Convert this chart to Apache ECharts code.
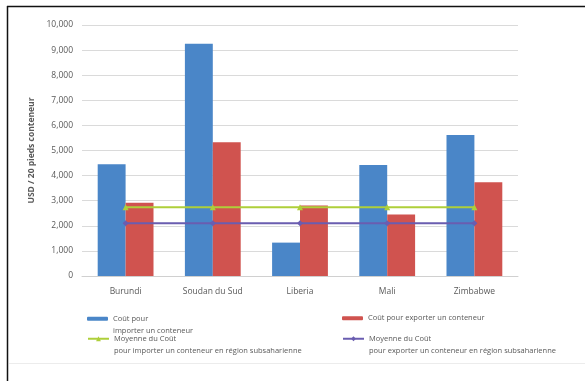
<!DOCTYPE html>
<html>
<head>
<meta charset="utf-8">
<script src="https://cdn.jsdelivr.net/npm/echarts@6/dist/echarts.min.js"></script>
<style>
  html, body { margin: 0; padding: 0; background: #fff; }
  #chart { width: 585px; height: 381px; }
</style>
</head>
<body>
<div id="chart"></div>
<script>
// Pays comparés
const categories = ['Burundi', 'Soudan du Sud', 'Liberia', 'Mali', 'Zimbabwe'];
// Coût (USD par conteneur de 20 pieds)
const importCost = [4450, 9250, 1330, 4420, 5620];
const exportCost = [2920, 5330, 2810, 2450, 3740];
// Moyennes régionales (Afrique subsaharienne)
const avgImport = [2740, 2740, 2740, 2740, 2740];
const avgExport = [2100, 2100, 2100, 2100, 2100];
// Graduations de l'axe des valeurs
const yTicks = [0, 1000, 2000, 3000, 4000, 5000, 6000, 7000, 8000, 9000, 10000];

const names = [
  'Coût pour\nimporter un conteneur',
  'Coût pour exporter un conteneur',
  'Moyenne du Coût\npour importer un conteneur en région subsaharienne',
  'Moyenne du Coût\npour exporter un conteneur en région subsaharienne'
];

const grey = '#595959';
const font = '"Open Sans", "Liberation Sans", sans-serif';

// Two-line entries get a blank leading line so the symbol sits beside the first line
function legendAt(name, left, top, isLine) {
  const twoLines = name.indexOf('\n') >= 0;
  return {
    data: [name],
    left: left, top: top,
    padding: 0,
    orient: 'horizontal',
    itemWidth: 21,
    itemHeight: isLine ? 6 : 4,
    itemGap: 0,
    selectedMode: false,
    formatter: n => (twoLines ? ' \n' + n : n),
    textStyle: { fontSize: 7.5, color: grey, fontFamily: font, lineHeight: 12.5 }
  };
}

const chart = echarts.init(document.getElementById('chart'));
chart.setOption({
  animation: false,
  backgroundColor: '#fff',
  grid: { left: 82, right: 67, top: 25, bottom: 105 },
  legend: [
    legendAt(names[0], 87, 300, false),
    legendAt(names[1], 342, 312, false),
    legendAt(names[2], 87, 320, true),
    legendAt(names[3], 342, 320, true)
  ],
  xAxis: {
    type: 'category',
    data: categories,
    axisTick: { show: false },
    axisLine: { lineStyle: { color: '#d0d0d0' } },
    axisLabel: { color: grey, fontSize: 8.5, fontFamily: font, margin: 11 }
  },
  yAxis: {
    type: 'value',
    min: yTicks[0],
    max: yTicks[yTicks.length - 1],
    interval: yTicks[1] - yTicks[0],
    name: 'USD / 20 pieds conteneur',
    nameLocation: 'middle',
    nameGap: 38,
    nameRotate: 90,
    nameTextStyle: { color: grey, fontSize: 8.5, fontWeight: 'bold', fontFamily: font },
    axisLine: { show: false },
    axisTick: { show: false },
    axisLabel: {
      color: grey, fontSize: 8.5, fontFamily: font, margin: 9,
      formatter: v => v.toLocaleString('en-US')
    },
    splitLine: { lineStyle: { color: '#dadada', width: 1 } }
  },
  series: [
    {
      name: names[0], type: 'bar', data: importCost,
      itemStyle: { color: '#4A86C8' },
      barGap: '0%', barCategoryGap: '36%'
    },
    {
      name: names[1], type: 'bar', data: exportCost,
      itemStyle: { color: '#D0534F' },
      barGap: '0%', barCategoryGap: '36%'
    },
    {
      name: names[2], type: 'line', data: avgImport,
      color: '#AECF3A',
      lineStyle: { width: 2, color: '#AECF3A' },
      symbol: 'triangle', symbolSize: 6,
      itemStyle: { color: '#AECF3A' }
    },
    {
      name: names[3], type: 'line', data: avgExport,
      color: '#6A5DB0',
      lineStyle: { width: 2, color: '#6A5DB0' },
      symbol: 'diamond', symbolSize: 6,
      itemStyle: { color: '#6A5DB0' }
    }
  ],
  graphic: [
    { type: 'line', shape: { x1: 7, y1: 6.5, x2: 585, y2: 6.5 }, style: { stroke: '#111', lineWidth: 1.5 } },
    { type: 'line', shape: { x1: 7.5, y1: 6, x2: 7.5, y2: 381 }, style: { stroke: '#111', lineWidth: 1.5 } },
    { type: 'line', shape: { x1: 9, y1: 363.5, x2: 585, y2: 363.5 }, style: { stroke: '#ececec', lineWidth: 1 } }
  ]
});
</script>
</body>
</html>
